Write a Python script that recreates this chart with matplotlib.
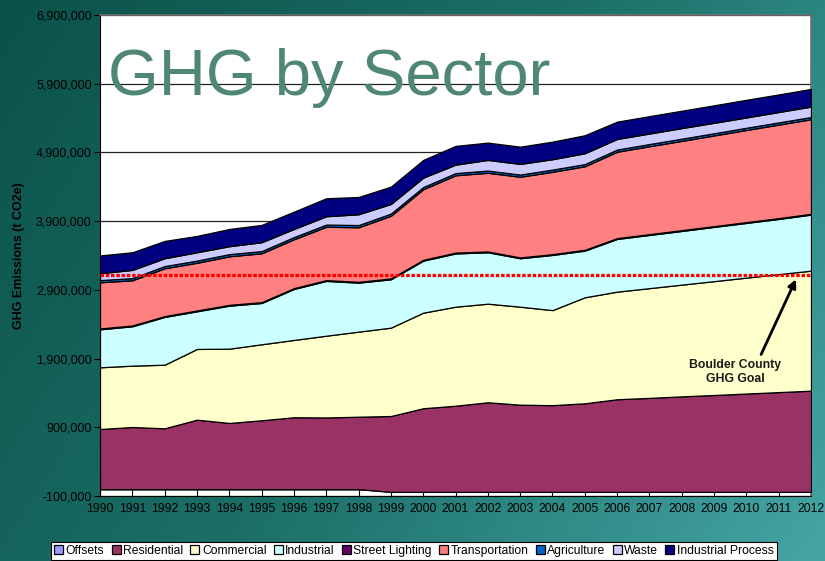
import numpy as np
import matplotlib
matplotlib.use("Agg")
import matplotlib.pyplot as plt
from matplotlib.ticker import FuncFormatter
from matplotlib.colors import LinearSegmentedColormap

plt.rcParams["font.family"] = ["Liberation Sans", "DejaVu Sans"]

# ---- data (t CO2e) ----
years = list(range(1990, 2013))
offsets = [0] * 9 + [-40000] * 14
residential = [875000, 904000, 885000, 1011000, 963000, 1002000, 1046000, 1043000,
               1054000, 1104000, 1217000, 1254000, 1304000, 1269000, 1262000, 1289000,
               1348000, 1368000, 1390000, 1410000, 1431000, 1452000, 1473000]
commercial = [898000, 893000, 926000, 1029000, 1081000, 1106000, 1125000, 1190000,
              1238000, 1286000, 1391000, 1441000, 1435000, 1426000, 1383000, 1543000,
              1566000, 1597000, 1626000, 1657000, 1687000, 1717000, 1746000]
industrial = [553000, 573000, 695000, 548000, 626000, 601000, 742000, 797000,
              713000, 704000, 757000, 775000, 748000, 705000, 803000, 679000,
              767000, 774000, 781000, 789000, 796000, 803000, 816000]
street_lighting = [12000] * 23
transportation = [672000, 657000, 696000, 694000, 706000, 711000, 711000, 776000,
                  794000, 912000, 1027000, 1125000, 1145000, 1174000, 1198000, 1215000,
                  1257000, 1279000, 1299000, 1319000, 1341000, 1361000, 1376000]
agriculture = [32000] * 23
waste = [100000, 119000, 114000, 121000, 115000, 129000, 118000, 121000,
         157000, 140000, 137000, 123000, 155000, 155000, 151000, 158000,
         154000, 153000, 154000, 152000, 150000, 151000, 152000]
industrial_process = [259000, 257000, 252000, 238000, 251000, 252000, 252000, 262000,
                      252000, 252000, 258000, 273000, 252000, 251000, 256000, 262000,
                      252000, 253000, 253000, 255000, 257000, 256000, 257000]
goal = 3110000

labels = ["Offsets", "Residential", "Commercial", "Industrial", "Street Lighting",
          "Transportation", "Agriculture", "Waste", "Industrial Process"]
colors = ["#9999FF", "#993366", "#FFFFCC", "#CCFFFF", "#660066",
          "#FF8080", "#0066CC", "#CCCCFF", "#000080"]

fig = plt.figure(figsize=(8.25, 5.61), dpi=100)

# teal slide background
bg = fig.add_axes([0, 0, 1, 1], zorder=-10)
gx, gy = np.meshgrid(np.linspace(0, 1, 200), np.linspace(0, 1, 140))
t = 0.7 * gx + 0.3 * gy
cmap = LinearSegmentedColormap.from_list("teal", ["#0b5249", "#1c7068", "#45a5a5"])
bg.imshow(t, cmap=cmap, aspect="auto", extent=[0, 1, 0, 1], origin="upper")
bg.axis("off")

ax = fig.add_axes([100 / 825, 65 / 561, 711 / 825, 481 / 561])
ax.set_facecolor("white")

polys = ax.stackplot(years, offsets, residential, commercial, industrial, street_lighting,
                     transportation, agriculture, waste, industrial_process,
                     colors=colors, labels=labels, edgecolor="black", linewidth=0.9,
                     zorder=3)

ax.axhline(goal, color="#FF0000", lw=2.3, linestyle=(0, (1.1, 0.55)), zorder=5)

ax.set_xlim(1990, 2012)
ax.set_ylim(-100000, 6900000)
ax.set_yticks(np.arange(-100000, 6900001, 1000000))
ax.yaxis.set_major_formatter(FuncFormatter(lambda v, p: f"{v:,.0f}"))
ax.set_xticks(years)
ax.grid(axis="y", color="#222222", lw=0.9, zorder=1)
ax.tick_params(axis="y", labelsize=9, length=4, direction="out", colors="black", pad=2)
ax.tick_params(axis="x", labelsize=8.7, length=4, direction="in", pad=5)
for s in ["top", "right"]:
    ax.spines[s].set_color("#707070")
    ax.spines[s].set_linewidth(1.2)
ax.spines["left"].set_color("black")
ax.spines["bottom"].set_color("black")
ax.set_ylabel("GHG Emissions (t CO2e)", fontsize=9, fontweight="bold", labelpad=8)

# annotation for the goal line
ax.text(2009.65, 1705000, "Boulder County\nGHG Goal", ha="center", va="center",
        fontsize=8.8, fontweight="bold", color="#1a1a1a", linespacing=1.25, zorder=6)
ax.annotate("", xy=(2011.57, goal - 20000), xytext=(2010.42, 1923000),
            arrowprops=dict(arrowstyle="-|>", color="black", lw=2, mutation_scale=12),
            zorder=6)

fig.text(108 / 825, 1 - 95 / 561, "GHG by Sector", fontsize=47, color="#4F8772",
         va="baseline", ha="left")

leg = fig.legend(polys, labels, loc="center", bbox_to_anchor=(414 / 825, 1 - 551 / 561),
                 ncol=9, fontsize=8.7, handlelength=0.75, handleheight=0.75,
                 handletextpad=0.2, columnspacing=0.6, borderpad=0.25,
                 frameon=True, fancybox=False, edgecolor="black", framealpha=1)
leg.get_frame().set_linewidth(0.8)

fig.savefig("out.png", dpi=100)
